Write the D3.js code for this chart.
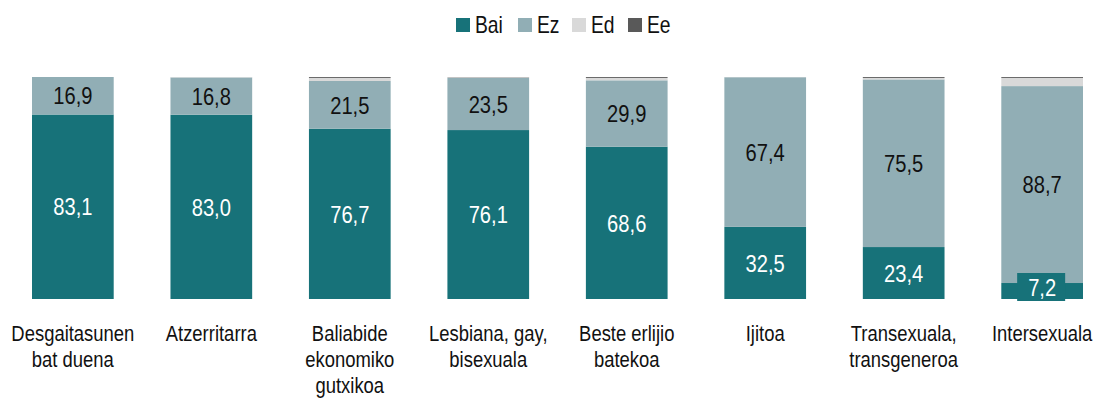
<!DOCTYPE html>
<html>
<head>
<meta charset="utf-8">
<script src="https://cdn.jsdelivr.net/npm/d3@7"></script>
<style>
  body { margin: 0; background: #fff; }
  text { font-family: "Liberation Sans", Arial, sans-serif; }
</style>
</head>
<body>
<div id="chart"></div>
<script>
// data
var categories = ["Desgaitasunen bat duena", "Atzerritarra", "Baliabide ekonomiko gutxikoa",
  "Lesbiana, gay, bisexuala", "Beste erlijio batekoa", "Ijitoa",
  "Transexuala, transgeneroa", "Intersexuala"];
var bai = [83.1, 83.0, 76.7, 76.1, 68.6, 32.5, 23.4, 7.2];
var ez  = [16.9, 16.8, 21.5, 23.5, 29.9, 67.4, 75.5, 88.7];
var ed  = [0.0, 0.2, 1.4, 0.3, 1.1, 0.1, 0.7, 3.7];
var ee  = [0.0, 0.0, 0.4, 0.1, 0.4, 0.0, 0.4, 0.4];
var seriesNames = ["Bai", "Ez", "Ed", "Ee"];

var width = 1094, height = 403;
var colors = d3.scaleOrdinal()
  .domain(seriesNames)
  .range(["#177279", "#91aeb5", "#d9d9d9", "#595959"]);

var svg = d3.select("#chart")
  .append("svg")
    .attr("width", width)
    .attr("height", height);

// condensed look: squeeze text horizontally
function place(px, py, k) {
  return "translate(" + px + "," + py + ") scale(" + k + ",1)";
}

// build rows for stacking
var rows = categories.map(function(c, i) {
  return {cat: c, Bai: bai[i], Ez: ez[i], Ed: ed[i], Ee: ee[i]};
});
var stack = d3.stack().keys(seriesNames)(rows);

var x = d3.scaleBand()
  .domain(categories)
  .range([32, 1083])
  .paddingInner(0.41)
  .paddingOuter(0);
var y = d3.scaleLinear()
  .domain([0, 100])
  .range([299, 77]);

// bars
var layer = svg.selectAll("g.layer")
  .data(stack)
  .enter()
  .append("g")
    .attr("class", "layer")
    .attr("fill", function(d) { return colors(d.key); });

layer.selectAll("rect")
  .data(function(d) { return d; })
  .enter()
  .append("rect")
    .attr("x", function(d) { return x(d.data.cat); })
    .attr("width", x.bandwidth())
    .attr("y", function(d) { return y(d[1]); })
    .attr("height", function(d) { return y(d[0]) - y(d[1]); });

// value labels for Bai and Ez
var fmt = function(v) { return v.toFixed(1).replace(".", ","); };
var labels = svg.append("g");
stack.slice(0, 2).forEach(function(s) {
  s.forEach(function(d) {
    var cx = x(d.data.cat) + x.bandwidth() / 2;
    var cy = (y(d[0]) + y(d[1])) / 2;
    var small = (y(d[0]) - y(d[1])) < 26;
    if (small) {
      cy = y(d[0]) - 12;
      labels.append("rect")
        .attr("x", cx - 25)
        .attr("y", cy - 14)
        .attr("width", 48)
        .attr("height", 28)
        .attr("fill", colors(s.key));
    }
    labels.append("text")
      .attr("transform", place(cx, cy, 0.84))
      .attr("dy", "0.36em")
      .attr("text-anchor", "middle")
      .attr("font-size", 24)
      .attr("fill", s.key == "Bai" ? "#fff" : "#111")
      .text(fmt(d.data[s.key]));
  });
});

// category labels, wrapped
function wrap(textSel, maxWidth) {
  textSel.each(function() {
    var text = d3.select(this),
        words = text.text().split(" "),
        line = [],
        tspan = text.text(null).append("tspan").attr("x", 0).attr("dy", 0);
    words.forEach(function(w) {
      line.push(w);
      tspan.text(line.join(" "));
      if (tspan.node().getComputedTextLength() > maxWidth && line.length > 1) {
        line.pop();
        tspan.text(line.join(" "));
        line = [w];
        tspan = text.append("tspan").attr("x", 0).attr("dy", "26px").text(w);
      }
    });
  });
}

svg.append("g")
  .selectAll("text")
  .data(categories)
  .enter()
  .append("text")
    .attr("transform", function(d) { return place(x(d) + x.bandwidth() / 2, 341, 0.82); })
    .attr("text-anchor", "middle")
    .attr("font-size", 22.5)
    .attr("fill", "#111")
    .text(function(d) { return d; })
    .call(wrap, 166);

// legend
var legendX = [456, 518, 572, 628];
var legend = svg.append("g")
  .selectAll("g")
  .data(seriesNames)
  .enter()
  .append("g")
    .attr("transform", function(d, i) { return "translate(" + legendX[i] + ",18)"; });
legend.append("rect")
  .attr("width", 14)
  .attr("height", 14)
  .attr("fill", function(d) { return colors(d); });
legend.append("text")
  .attr("transform", place(19, 7, 0.84))
  .attr("dy", "0.36em")
  .attr("font-size", 23)
  .attr("fill", "#111")
  .text(function(d) { return d; });
</script>
</body>
</html>
